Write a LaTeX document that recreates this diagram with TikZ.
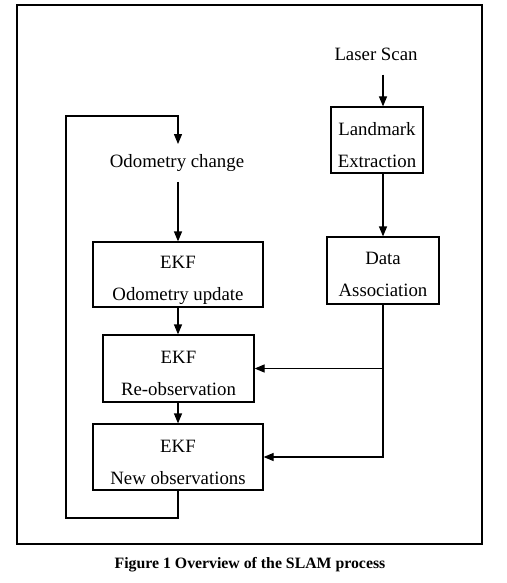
\documentclass[tikz,border=0pt]{standalone}
\usepackage{fontspec}
\setmainfont{Liberation Serif}
\usetikzlibrary{arrows.meta}

\tikzset{
  stagebox/.style={draw, line width=0.6pt, align=center, inner sep=0pt,
    font=\fontsize{9.4}{16}\selectfont, text height=27.5pt},
  plain/.style={font=\fontsize{9.4}{11}\selectfont},
  flow/.style={-{Triangle[length=5pt,width=4pt]}, line width=0.6pt}
}

\begin{document}
\begin{tikzpicture}[x=0.5pt, y=-0.5pt]
  \useasboundingbox (0,0) rectangle (507,583);

  % Frame
  \draw[line width=0.7pt] (17,5) rectangle (482,544);

  % Inputs
  \node[plain, inner sep=7pt] (laser) at (376,54) {Laser Scan};
  \node[plain, inner sep=5pt] (odochange) at (177,163) {Odometry change};

  % Processing steps
  \node[stagebox, minimum width=46pt, minimum height=33pt] (landmark) at (377,140) {Landmark\\Extraction};
  \node[stagebox, minimum width=56pt, minimum height=33.5pt, text height=26pt] (data) at (383,270.5) {Data\\Association};
  \node[stagebox, minimum width=85pt, minimum height=32.5pt, text height=28.5pt] (odoupd) at (178,274.5) {EKF\\Odometry update};
  \node[stagebox, minimum width=75.5pt, minimum height=33.5pt] (reobs) at (178.5,368.5) {EKF\\Re-observation};
  \node[stagebox, minimum width=85pt, minimum height=33pt] (newobs) at (178,457) {EKF\\New observations};

  % Right branch
  \draw[flow] (laser.south -| data.north) -- (landmark.north -| data.north);
  \draw[flow] (landmark.south -| data.north) -- (data.north);
  \draw[flow] (data.south) |- (reobs.east);
  \draw[flow] (data.south) |- (newobs.east);

  % Left chain
  \draw[flow] (odochange.south -| odoupd.north) -- (odoupd.north);
  \draw[flow] (odoupd.south) -- (odoupd.south |- reobs.north);
  \draw[flow] (reobs.south -| newobs.north) -- (newobs.north);

  % Feedback loop
  \coordinate (lowleft) at (66,518);
  \coordinate (upleft) at (66,116);
  \draw[flow] (newobs.south) |- (lowleft) -- (upleft) -| (odochange.north -| newobs.south);

  % Caption
  \node[font=\bfseries\fontsize{7.9}{9}\selectfont] (caption) at (250,565) {Figure 1 Overview of the SLAM process};
\end{tikzpicture}
\end{document}
